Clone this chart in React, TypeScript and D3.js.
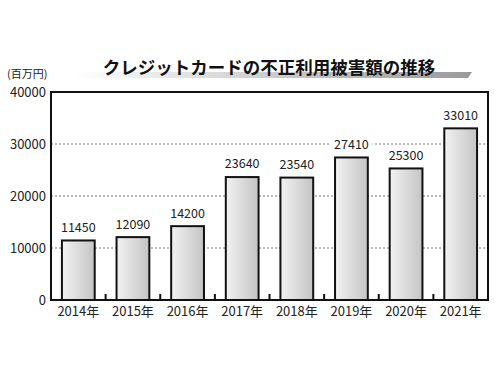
import React, { useEffect, useRef } from 'react';
import * as d3 from 'd3';

const years = ['2014年', '2015年', '2016年', '2017年', '2018年', '2019年', '2020年', '2021年'];
const damage = [11450, 12090, 14200, 23640, 23540, 27410, 25300, 33010];
const yTicks = [0, 10000, 20000, 30000, 40000];

const title = 'クレジットカードの不正利用被害額の推移';
const unit = '(百万円)';

export default function App() {
  const ref = useRef<SVGSVGElement>(null);

  useEffect(() => {
    if (!ref.current) return;
    const svg = d3.select(ref.current);
    svg.selectAll('*').remove();
    const font = '"Noto Sans CJK JP", "Noto Sans", sans-serif';

    const left = 51, right = 488, top = 92, bottom = 300;
    const x = d3.scaleBand().domain(years).range([left, right]).paddingInner(0.4).paddingOuter(0.2);
    const y = d3.scaleLinear().domain([0, 40000]).range([bottom, top]);

    const defs = svg.append('defs');
    const barGrad = defs.append('linearGradient').attr('id', 'barGrad');
    barGrad.append('stop').attr('offset', '0%').attr('stop-color', '#f2f2f2');
    barGrad.append('stop').attr('offset', '100%').attr('stop-color', '#c4c4c4');
    const ulGrad = defs.append('linearGradient').attr('id', 'ulGrad');
    ulGrad.append('stop').attr('offset', '0%').attr('stop-color', '#ffffff');
    ulGrad.append('stop').attr('offset', '100%').attr('stop-color', '#999999');

    // title underline
    svg.append('path')
      .attr('d', 'M78,72 L472,72 L468,78 L74,78 Z')
      .attr('fill', 'url(#ulGrad)');
    svg.append('text')
      .attr('x', 269).attr('y', 74)
      .attr('text-anchor', 'middle')
      .attr('font-family', font).attr('font-weight', 'bold').attr('font-size', 17.5)
      .attr('fill', '#111')
      .text(title);

    svg.append('text')
      .attr('x', 7).attr('y', 78)
      .attr('font-family', font).attr('font-size', 11).attr('fill', '#222')
      .text(unit);

    // grid
    svg.append('g').selectAll('line')
      .data(yTicks.filter(t => t > 0 && t < 40000))
      .join('line')
      .attr('x1', left).attr('x2', right)
      .attr('y1', d => y(d)).attr('y2', d => y(d))
      .attr('stroke', '#777').attr('stroke-width', 1).attr('stroke-dasharray', '2,2');

    // y labels
    svg.append('g').selectAll('text')
      .data(yTicks)
      .join('text')
      .attr('x', 46).attr('y', d => y(d))
      .attr('dy', '0.35em')
      .attr('text-anchor', 'end')
      .attr('font-family', font).attr('font-size', 13).attr('fill', '#222')
      .text(d => String(d));

    // value labels with white backing
    const labels = svg.append('g');
    years.forEach((yr, i) => {
      const cx = (x(yr) as number) + x.bandwidth() / 2;
      const cy = y(damage[i]) - 13;
      labels.append('rect')
        .attr('x', cx - 21).attr('y', cy - 8).attr('width', 42).attr('height', 15)
        .attr('fill', '#fff');
      labels.append('text')
        .attr('x', cx).attr('y', cy)
        .attr('dy', '0.35em')
        .attr('text-anchor', 'middle')
        .attr('font-family', font).attr('font-size', 12.5).attr('fill', '#222')
        .text(String(damage[i]));
    });

    // bars
    svg.append('g').selectAll('rect')
      .data(damage)
      .join('rect')
      .attr('x', (_, i) => x(years[i]) as number)
      .attr('y', d => y(d))
      .attr('width', x.bandwidth())
      .attr('height', d => bottom - y(d))
      .attr('fill', 'url(#barGrad)')
      .attr('stroke', '#111').attr('stroke-width', 2);

    // frame
    svg.append('rect')
      .attr('x', left).attr('y', top)
      .attr('width', right - left).attr('height', bottom - top)
      .attr('fill', 'none').attr('stroke', '#111').attr('stroke-width', 2);

    // ticks between bands
    const tickX = (d: string) => (x(d) as number) - x.step() * 0.2;
    svg.append('g').selectAll('line')
      .data(years.slice(1))
      .join('line')
      .attr('x1', d => tickX(d))
      .attr('x2', d => tickX(d))
      .attr('y1', bottom).attr('y2', bottom - 6)
      .attr('stroke', '#111').attr('stroke-width', 2);

    // x labels
    svg.append('g').selectAll('text')
      .data(years)
      .join('text')
      .attr('x', d => (x(d) as number) + x.bandwidth() / 2)
      .attr('y', 311)
      .attr('dy', '0.35em')
      .attr('text-anchor', 'middle')
      .attr('font-family', font).attr('font-size', 13).attr('fill', '#222')
      .text(d => d);
  }, []);

  return (
    <svg ref={ref} width={500} height={375}
      style={{ position: 'absolute', left: 0, top: 0, background: '#fff' }} />
  );
}
